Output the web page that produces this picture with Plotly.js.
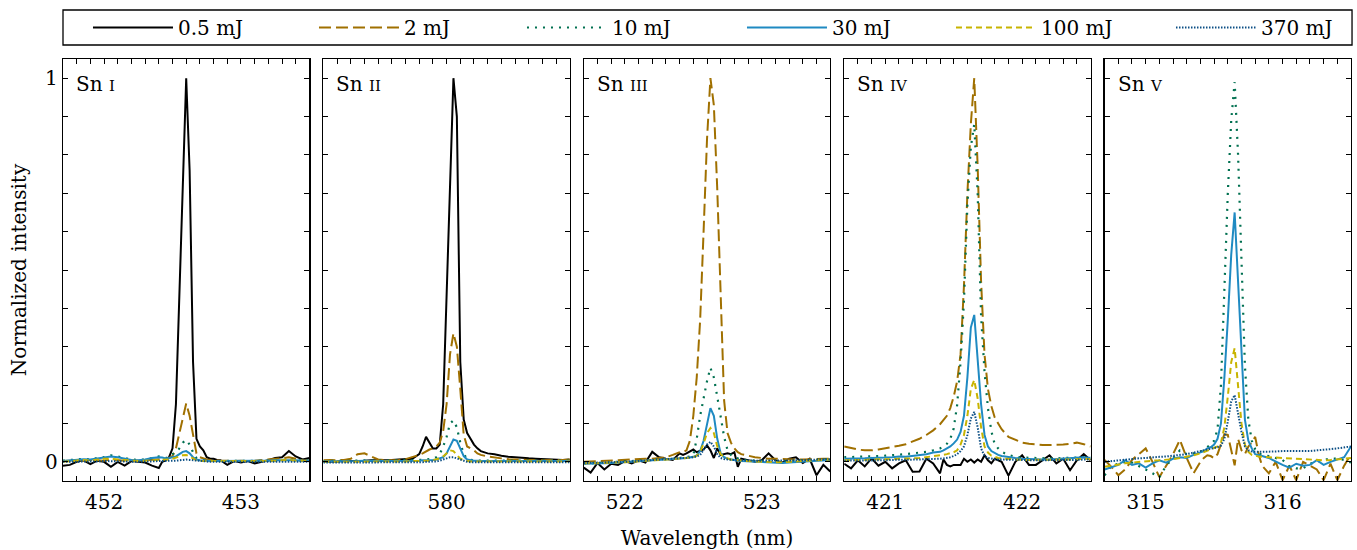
<!DOCTYPE html>
<html><head><meta charset="utf-8">
<script src="https://cdn.plot.ly/plotly-3.0.1.min.js"></script>
<style>html,body{margin:0;padding:0;background:#fff}#chart{width:1357px;height:550px}</style>
</head><body><div id="chart"></div>
<script>
// ---------- DATA ----------
const energies = ['0.5 mJ', '2 mJ', '10 mJ', '30 mJ', '100 mJ', '370 mJ'];
const ionSpecies = ['Sn', 'Sn', 'Sn', 'Sn', 'Sn'];
const ionStages = ['I', 'II', 'III', 'IV', 'V'];
const xTickLabels = [[452, 453], [580], [522, 523], [421, 422], [315, 316]];
const yTickVals = [0, 0.1, 0.2, 0.3, 0.4, 0.5, 0.6, 0.7, 0.8, 0.9, 1];
const yTickText = ['0', '', '', '', '', '', '', '', '', '', '1'];

// wavelengths (nm)
const wl1 = [451.70,451.75,451.80,451.85,451.90,451.95,452.00,452.05,452.10,452.15,452.20,452.25,452.30,452.35,452.40,
  452.425,452.45,452.475,452.50,452.525,452.55,452.575,452.60,452.625,452.65,452.675,452.70,452.725,452.75,452.775,452.80,452.825,452.85,
  452.90,452.95,453.00,453.05,453.10,453.15,453.20,453.25,453.30,453.35,453.40,453.45,453.50];
const wl2 = [579.10,579.15,579.20,579.25,579.30,579.35,579.40,579.45,579.50,579.55,579.60,579.65,579.70,579.75,579.80,
  579.825,579.85,579.875,579.90,579.925,579.95,579.975,580.00,580.025,580.05,580.075,580.10,580.125,580.15,580.175,580.20,580.225,580.25,
  580.30,580.35,580.40,580.45,580.50,580.55,580.60,580.65,580.70,580.75,580.80,580.85,580.90];
const wl3 = [521.70,521.75,521.80,521.85,521.90,521.95,522.00,522.05,522.10,522.15,522.20,522.25,522.30,522.35,522.40,
  522.425,522.45,522.475,522.50,522.525,522.55,522.575,522.60,522.625,522.65,522.675,522.70,522.725,522.75,522.775,522.80,522.825,522.85,
  522.90,522.95,523.00,523.05,523.10,523.15,523.20,523.25,523.30,523.35,523.40,523.45,523.50];
const wl4 = [420.70,420.75,420.80,420.85,420.90,420.95,421.00,421.05,421.10,421.15,421.20,421.25,421.30,421.35,421.40,
  421.425,421.45,421.475,421.50,421.525,421.55,421.575,421.60,421.625,421.65,421.675,421.70,421.725,421.75,421.775,421.80,421.825,421.85,
  421.90,421.95,422.00,422.05,422.10,422.15,422.20,422.25,422.30,422.35,422.40,422.45,422.50];
const wl5 = [314.70,314.75,314.80,314.85,314.90,314.95,315.00,315.05,315.10,315.15,315.20,315.25,315.30,315.35,315.40,
  315.425,315.45,315.475,315.50,315.525,315.55,315.575,315.60,315.625,315.65,315.675,315.70,315.725,315.75,315.775,315.80,315.825,315.85,
  315.90,315.95,316.00,316.05,316.10,316.15,316.20,316.25,316.30,316.35,316.40,316.45,316.50];

// Sn I
const snI_05 = [-0.010,-0.008,0.000,0.004,-0.006,0.003,0.000,-0.013,0.000,-0.010,0.002,0.000,-0.002,-0.010,-0.016,
  0.000,0.004,0.012,0.035,0.150,0.430,0.720,1.000,0.760,0.260,0.060,0.040,0.030,0.012,0.008,0.008,0.005,0.004,
  -0.008,0.002,-0.002,0.002,-0.004,0.000,0.004,0.010,0.012,0.028,0.014,0.006,0.010];
const snI_2 = [0.002,0.003,0.004,0.003,0.005,0.004,0.003,0.006,0.004,0.003,0.004,0.003,0.004,0.005,0.006,
  0.006,0.008,0.010,0.015,0.035,0.075,0.120,0.152,0.120,0.070,0.022,0.012,0.008,0.006,0.005,0.004,0.004,0.003,
  0.003,0.002,0.003,0.002,0.003,0.004,0.005,0.007,0.009,0.012,0.008,0.004,0.003];
const snI_10 = [0.003,0.005,0.006,0.008,0.006,0.010,0.012,0.017,0.014,0.010,0.006,0.005,0.006,0.010,0.014,
  0.012,0.010,0.012,0.020,0.025,0.035,0.050,0.057,0.045,0.025,0.010,0.006,0.004,0.003,0.002,0.002,0.002,0.002,
  0.002,0.003,0.002,0.003,0.003,0.002,0.003,0.004,0.005,0.006,0.004,0.003,0.003];
const snI_30 = [0.002,0.004,0.006,0.007,0.006,0.009,0.012,0.014,0.012,0.008,0.005,0.004,0.006,0.010,0.012,
  0.011,0.009,0.010,0.012,0.014,0.020,0.026,0.028,0.022,0.012,0.006,0.004,0.003,0.003,0.002,0.002,0.002,0.002,
  0.002,0.002,0.003,0.002,0.002,0.003,0.003,0.004,0.004,0.005,0.004,0.003,0.003];
const snI_100 = [0.000,0.002,0.004,0.005,0.003,0.006,0.008,0.008,0.007,0.005,0.003,0.002,0.003,0.004,0.005,
  0.005,0.005,0.006,0.008,0.010,0.014,0.017,0.018,0.014,0.008,0.004,0.002,0.002,0.002,0.001,0.001,0.001,0.001,
  0.001,0.002,0.001,0.002,0.002,0.001,0.002,0.003,0.004,0.005,0.003,0.002,0.002];
const snI_370 = [0.000,0.000,0.001,0.001,0.000,0.001,0.002,0.002,0.001,0.001,0.000,0.000,0.001,0.001,0.002,
  0.002,0.002,0.002,0.003,0.003,0.004,0.005,0.006,0.005,0.004,0.002,0.001,0.001,0.000,0.000,0.000,0.000,0.000,
  0.000,0.000,0.000,0.000,0.000,0.000,0.001,0.001,0.001,0.001,0.001,0.000,0.000];

// Sn II
const snII_05 = [0.000,0.000,0.001,0.002,0.002,0.003,0.003,0.004,0.004,0.005,0.005,0.006,0.007,0.008,0.020,
  0.040,0.065,0.050,0.035,0.035,0.045,0.150,0.430,0.720,1.000,0.900,0.260,0.110,0.075,0.060,0.045,0.035,0.028,
  0.022,0.020,0.016,0.013,0.012,0.010,0.009,0.008,0.007,0.006,0.005,0.005,0.006];
const snII_2 = [0.004,0.005,0.004,0.005,0.008,0.020,0.022,0.015,0.006,0.004,0.004,0.005,0.007,0.012,0.018,
  0.022,0.028,0.032,0.035,0.040,0.050,0.080,0.150,0.280,0.335,0.300,0.190,0.070,0.040,0.035,0.030,0.022,0.018,
  0.014,0.011,0.009,0.007,0.006,0.005,0.005,0.004,0.004,0.004,0.005,0.005,0.006];
const snII_10 = [0.002,0.002,0.003,0.002,0.003,0.003,0.004,0.003,0.003,0.004,0.003,0.004,0.004,0.004,0.004,
  0.005,0.006,0.007,0.008,0.012,0.020,0.040,0.065,0.100,0.108,0.090,0.050,0.020,0.008,0.005,0.004,0.003,0.003,
  0.003,0.003,0.003,0.003,0.002,0.002,0.002,0.002,0.002,0.002,0.002,0.002,0.003];
const snII_30 = [0.001,0.001,0.002,0.002,0.002,0.002,0.003,0.002,0.002,0.002,0.002,0.003,0.003,0.003,0.003,
  0.004,0.004,0.005,0.005,0.006,0.008,0.012,0.022,0.040,0.058,0.055,0.035,0.015,0.006,0.004,0.003,0.003,0.002,
  0.002,0.002,0.002,0.002,0.002,0.002,0.002,0.002,0.002,0.002,0.002,0.002,0.002];
const snII_100 = [0.000,0.000,0.001,0.001,0.001,0.001,0.001,0.001,0.001,0.001,0.001,0.001,0.001,0.002,0.002,
  0.002,0.003,0.003,0.004,0.006,0.009,0.014,0.022,0.030,0.028,0.018,0.008,0.004,0.002,0.001,0.001,0.001,0.001,
  0.001,0.001,0.001,0.001,0.001,0.001,0.001,0.001,0.001,0.001,0.001,0.001,0.001];
const snII_370 = [-0.002,-0.002,-0.002,-0.001,-0.002,-0.001,-0.001,-0.002,-0.001,-0.001,-0.001,-0.001,-0.001,-0.001,-0.001,
  -0.001,0.000,0.000,0.000,0.001,0.003,0.006,0.009,0.012,0.012,0.009,0.005,0.002,0.000,-0.001,-0.001,-0.001,-0.001,
  -0.001,-0.001,-0.001,-0.001,-0.001,-0.001,-0.001,-0.001,-0.001,-0.001,-0.001,-0.001,-0.001];

// Sn III
const snIII_05 = [-0.015,-0.028,-0.003,-0.020,-0.005,-0.008,0.002,-0.004,0.004,-0.002,0.026,0.012,0.008,0.005,0.022,
  0.018,0.022,0.028,0.032,0.025,0.028,0.032,0.043,0.030,0.010,0.035,0.018,0.020,0.022,0.020,0.025,-0.013,0.008,
  0.004,0.000,0.004,0.022,0.004,-0.002,0.008,0.012,-0.003,0.008,-0.035,-0.008,-0.025];
const snIII_2 = [0.000,0.001,0.002,0.003,0.004,0.004,0.005,0.006,0.007,0.008,0.008,0.010,0.012,0.018,0.025,
  0.025,0.030,0.055,0.120,0.220,0.370,0.600,0.840,1.000,0.930,0.710,0.420,0.160,0.075,0.050,0.035,0.025,0.020,
  0.015,0.012,0.010,0.008,0.008,0.007,0.006,0.006,0.006,0.007,0.007,0.008,0.008];
const snIII_10 = [-0.005,-0.004,-0.003,-0.002,-0.002,-0.001,0.000,0.001,0.002,0.003,0.004,0.005,0.006,0.008,0.010,
  0.011,0.012,0.014,0.017,0.060,0.120,0.170,0.210,0.245,0.220,0.170,0.120,0.065,0.030,0.018,0.012,0.008,0.006,
  0.004,0.003,0.002,0.002,0.001,0.001,0.002,0.002,0.003,0.004,0.005,0.006,0.007];
const snIII_30 = [-0.005,-0.005,-0.004,-0.004,-0.003,-0.002,-0.001,0.000,0.001,0.002,0.003,0.004,0.005,0.006,0.008,
  0.009,0.010,0.011,0.013,0.017,0.028,0.055,0.100,0.140,0.120,0.060,0.022,0.012,0.008,0.006,0.004,0.003,0.002,
  0.001,0.000,-0.001,-0.002,-0.002,-0.003,-0.002,-0.001,0.000,0.002,0.003,0.004,0.005];
const snIII_100 = [-0.004,-0.004,-0.003,-0.003,-0.002,-0.002,-0.001,0.000,0.001,0.002,0.003,0.004,0.005,0.006,0.008,
  0.009,0.010,0.011,0.012,0.016,0.025,0.048,0.075,0.088,0.075,0.040,0.020,0.012,0.008,0.006,0.005,0.004,0.003,
  0.002,0.001,0.000,0.000,-0.001,-0.001,0.000,0.001,0.002,0.003,0.004,0.005,0.006];
const snIII_370 = [-0.003,-0.003,-0.002,-0.002,-0.001,-0.001,0.000,0.001,0.002,0.003,0.004,0.005,0.006,0.007,0.008,
  0.009,0.010,0.011,0.012,0.014,0.018,0.030,0.045,0.052,0.040,0.020,0.010,0.007,0.006,0.005,0.004,0.004,0.004,
  0.003,0.003,0.003,0.003,0.003,0.003,0.003,0.004,0.004,0.005,0.006,0.006,0.007];

// Sn IV
const snIV_05 = [-0.005,-0.017,0.004,-0.012,0.009,-0.010,0.000,-0.017,-0.004,0.004,-0.026,-0.025,0.008,-0.004,-0.030,
  0.006,-0.008,-0.012,-0.008,-0.008,-0.008,0.008,0.000,0.006,-0.002,0.006,0.000,0.017,0.004,-0.004,0.008,0.004,0.000,
  -0.036,0.000,0.017,-0.008,-0.008,0.004,0.017,-0.004,0.008,-0.022,0.004,0.020,0.004];
const snIV_2 = [0.040,0.036,0.032,0.030,0.030,0.032,0.035,0.038,0.042,0.046,0.052,0.060,0.070,0.082,0.098,
  0.108,0.120,0.140,0.170,0.210,0.280,0.460,0.700,0.880,1.000,0.770,0.470,0.280,0.190,0.145,0.115,0.100,0.085,
  0.065,0.057,0.050,0.047,0.045,0.044,0.044,0.044,0.045,0.047,0.050,0.046,0.040];
const snIV_10 = [0.012,0.012,0.013,0.014,0.014,0.015,0.016,0.017,0.018,0.020,0.022,0.024,0.026,0.030,0.035,
  0.040,0.047,0.060,0.087,0.148,0.260,0.420,0.670,0.820,0.880,0.700,0.380,0.235,0.140,0.080,0.045,0.035,0.026,
  0.018,0.013,0.011,0.010,0.010,0.009,0.009,0.009,0.010,0.010,0.011,0.012,0.012];
const snIV_30 = [0.008,0.008,0.009,0.009,0.010,0.010,0.011,0.012,0.014,0.013,0.015,0.018,0.020,0.024,0.026,
  0.030,0.035,0.040,0.048,0.058,0.078,0.120,0.220,0.350,0.383,0.270,0.150,0.070,0.040,0.028,0.022,0.018,0.015,
  0.012,0.010,0.008,0.007,0.006,0.006,0.006,0.007,0.008,0.009,0.010,0.012,0.010];
const snIV_100 = [0.004,0.004,0.005,0.005,0.006,0.006,0.007,0.007,0.008,0.008,0.009,0.010,0.012,0.014,0.016,
  0.018,0.020,0.022,0.025,0.030,0.045,0.070,0.120,0.190,0.213,0.165,0.090,0.040,0.024,0.016,0.012,0.010,0.009,
  0.007,0.006,0.005,0.005,0.005,0.005,0.005,0.005,0.006,0.006,0.007,0.008,0.007];
const snIV_370 = [0.003,0.003,0.003,0.004,0.004,0.004,0.004,0.005,0.005,0.005,0.006,0.006,0.007,0.007,0.008,
  0.009,0.010,0.012,0.015,0.020,0.028,0.040,0.070,0.113,0.130,0.090,0.035,0.015,0.010,0.008,0.007,0.006,0.006,
  0.005,0.005,0.005,0.004,0.004,0.004,0.004,0.004,0.005,0.005,0.005,0.006,0.006];

// Sn V (no 0.5 mJ line visible)
const snV_2 = [0.005,-0.013,-0.035,-0.020,0.005,0.020,0.035,0.000,-0.040,-0.010,0.020,0.057,0.010,-0.030,0.000,
  0.010,0.017,0.015,0.009,0.020,0.045,0.072,0.070,0.026,-0.009,0.060,0.030,0.020,0.040,0.050,0.065,0.020,-0.010,
  -0.030,0.000,-0.048,-0.010,-0.048,0.000,-0.010,-0.020,-0.048,-0.005,-0.048,-0.010,0.020];
const snV_10 = [-0.035,-0.010,-0.005,0.000,-0.002,-0.010,-0.020,-0.030,-0.040,-0.010,0.010,0.030,0.020,0.022,0.026,
  0.030,0.038,0.045,0.055,0.085,0.200,0.450,0.700,0.890,0.990,0.800,0.500,0.250,0.110,0.055,0.033,0.022,0.018,
  0.015,0.010,0.005,-0.012,-0.017,-0.017,-0.005,0.000,0.005,0.009,0.008,0.005,-0.002];
const snV_30 = [-0.020,-0.015,-0.008,0.004,-0.008,-0.004,-0.015,-0.004,0.004,-0.002,0.008,0.012,0.010,0.018,0.026,
  0.028,0.035,0.038,0.045,0.060,0.100,0.220,0.370,0.540,0.650,0.470,0.260,0.110,0.055,0.035,0.020,0.018,0.015,
  0.010,0.000,-0.008,-0.015,-0.005,-0.010,-0.008,0.004,-0.008,0.000,0.005,0.012,0.040];
const snV_100 = [-0.013,-0.010,-0.006,-0.004,-0.002,0.000,0.002,0.003,0.004,0.005,0.007,0.010,0.013,0.017,0.022,
  0.026,0.030,0.034,0.037,0.040,0.050,0.090,0.170,0.260,0.296,0.200,0.100,0.045,0.026,0.018,0.015,0.014,0.013,
  0.012,0.011,0.010,0.009,0.008,0.007,0.005,0.004,0.004,0.005,0.006,0.008,0.010];
const snV_370 = [0.000,0.002,0.004,0.006,0.008,0.009,0.010,0.012,0.013,0.014,0.016,0.018,0.020,0.024,0.028,
  0.030,0.032,0.034,0.036,0.038,0.042,0.060,0.105,0.157,0.174,0.125,0.078,0.040,0.030,0.027,0.026,0.026,0.026,
  0.026,0.027,0.028,0.028,0.027,0.027,0.028,0.030,0.031,0.033,0.035,0.038,0.040];

// ---------- ASSEMBLY ----------
const panels = [
  {x: wl1, series: [snI_05, snI_2, snI_10, snI_30, snI_100, snI_370]},
  {x: wl2, series: [snII_05, snII_2, snII_10, snII_30, snII_100, snII_370]},
  {x: wl3, series: [snIII_05, snIII_2, snIII_10, snIII_30, snIII_100, snIII_370]},
  {x: wl4, series: [snIV_05, snIV_2, snIV_10, snIV_30, snIV_100, snIV_370]},
  {x: wl5, series: [null, snV_2, snV_10, snV_30, snV_100, snV_370]}
];

const FONT = '"DejaVu Serif", "Liberation Serif", serif';
const FS = 20;
const styles = [
  {color: '#000000', dash: 'solid', width: 2},
  {color: '#a07000', dash: '12px,5px', width: 2},
  {color: '#007050', dash: '2px,6px', width: 2.2},
  {color: '#1f8ac2', dash: 'solid', width: 2},
  {color: '#c8b400', dash: '6px,4px', width: 2},
  {color: '#0c4f85', dash: '1.5px,1.5px', width: 2}
];
const legendWidths = [131, 113, 125, 114, 125, 76];
const xDomains = [[0, 0.1913], [0.20217, 0.39347], [0.40435, 0.59565], [0.60652, 0.79783], [0.8087, 1]];
const xRanges = [[451.7, 453.5], [579.1, 580.9], [521.7, 523.5], [420.7, 422.5], [314.7, 316.5]];

const traces = [];
const layout = {
  width: 1357, height: 550,
  margin: {l: 63, r: 6, t: 59, b: 69},
  paper_bgcolor: '#fff', plot_bgcolor: '#fff',
  font: {family: FONT, size: FS, color: '#000'},
  showlegend: true,
  legend: {
    orientation: 'h', x: 0.0194, xanchor: 'left', y: 1.0746, yanchor: 'middle',
    borderwidth: 0, bgcolor: 'rgba(0,0,0,0)', itemwidth: 80,
    font: {family: FONT, size: FS, color: '#000'}, itemclick: false, itemdoubleclick: false
  },
  shapes: [{type: 'rect', xref: 'paper', yref: 'paper', x0: 0, x1: 1.0008, y0: 1.0332, y1: 1.1161,
    line: {color: '#000', width: 1.3}, fillcolor: 'rgba(0,0,0,0)'}],
  annotations: []
};

panels.forEach((p, i) => {
  const k = i === 0 ? '' : String(i + 1);
  p.series.forEach((y, e) => {
    if (!y) return;
    traces.push({
      type: 'scatter', mode: 'lines', x: p.x, y: y,
      xaxis: 'x' + k, yaxis: 'y' + k,
      name: energies[e], legendgroup: energies[e], showlegend: i === 0,
      legendwidth: legendWidths[e],
      line: {color: styles[e].color, dash: styles[e].dash, width: styles[e].width},
      hoverinfo: 'skip'
    });
  });
  layout['xaxis' + k] = {
    domain: xDomains[i], range: xRanges[i], anchor: 'y' + k,
    tickmode: 'array', tickvals: xTickLabels[i], ticktext: xTickLabels[i].map(String),
    ticks: 'inside', ticklen: 5, tickwidth: 1, tickcolor: '#000', ticklabelstandoff: 3,
    showline: true, linecolor: '#000', linewidth: 1.3, mirror: 'ticks',
    showgrid: false, zeroline: false,
    tickfont: {family: FONT, size: FS, color: '#000'},
    minor: {tickmode: 'linear', tick0: 0, dtick: 0.1, ticks: 'inside', ticklen: 5, tickcolor: '#000', tickwidth: 1, showgrid: false}
  };
  layout['yaxis' + k] = {
    domain: [0, 1], range: [-0.05, 1.05], anchor: 'x' + k,
    tickmode: 'array', tickvals: yTickVals, ticktext: yTickText, showticklabels: i === 0,
    ticks: 'inside', ticklen: 5, tickwidth: 1, tickcolor: '#000',
    showline: true, linecolor: '#000', linewidth: 1.3, mirror: 'ticks',
    showgrid: false, zeroline: false,
    tickfont: {family: FONT, size: FS, color: '#000'}
  };
  layout.annotations.push({
    xref: 'x' + k + ' domain', yref: 'y' + k + ' domain', x: 0.045, y: 0.975,
    xanchor: 'left', yanchor: 'top', showarrow: false,
    text: ionSpecies[i] + ' <span style="font-size:15px">' + ionStages[i] + '</span>',
    font: {family: FONT, size: FS, color: '#000'}
  });
});
layout.yaxis.title = {text: 'Normalized intensity', font: {family: FONT, size: FS, color: '#000'}, standoff: 13};
layout.xaxis3.title = {text: 'Wavelength (nm)', font: {family: FONT, size: FS, color: '#000'}, standoff: 18};

Plotly.newPlot('chart', traces, layout, {displayModeBar: false, staticPlot: true});
</script></body></html>
